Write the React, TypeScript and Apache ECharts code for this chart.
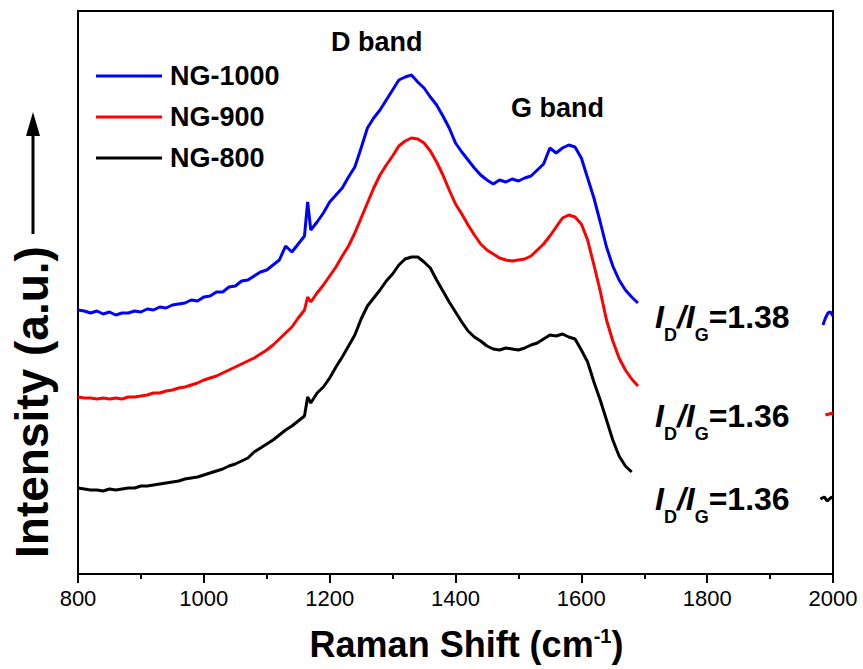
import * as echarts from 'echarts';
import { useEffect, useRef } from 'react';

// Raman shift sample positions (cm^-1)
const WAVENUMBER = [
  800, 810, 820, 830, 840, 850, 860, 870, 880, 890,
  900, 910, 920, 930, 940, 950, 960, 970, 980, 990,
  1000, 1010, 1020, 1030, 1040, 1050, 1060, 1070, 1080, 1090,
  1100, 1110, 1120, 1130, 1140, 1150, 1160, 1165, 1170, 1180, 1190,
  1200, 1210, 1220, 1230, 1240, 1250, 1260, 1270, 1280, 1290,
  1300, 1310, 1320, 1330, 1340, 1350, 1360, 1370, 1380, 1390,
  1400, 1410, 1420, 1430, 1440, 1450, 1460, 1470, 1480, 1490,
  1500, 1510, 1520, 1530, 1540, 1550, 1560, 1570, 1580, 1590,
  1600, 1610, 1620, 1630, 1640, 1650, 1660, 1670, 1680, 1690,
];

// Intensities (a.u., stacked offsets as plotted)
const NG1000 = [
  264, 263, 261, 263, 260, 262, 259, 261, 261, 263,
  262, 265, 264, 267, 266, 269, 270, 271, 274, 273,
  277, 278, 282, 282, 287, 288, 293, 294, 298, 302,
  304, 309, 314, 328, 322, 330, 338, 372, 344, 352, 361,
  372, 379, 386, 397, 407, 426, 446, 456, 464, 474,
  484, 494, 497, 499, 492, 486, 477, 469, 458, 446,
  431, 422, 414, 406, 399, 394, 390, 394, 392, 395,
  393, 396, 398, 404, 410, 426, 421, 426, 429, 427,
  416, 396, 376, 352, 327, 308, 294, 284, 277, 271,
];
const NG900 = [
  177, 176, 176, 175, 176, 175, 176, 175, 177, 177,
  178, 179, 181, 181, 183, 184, 186, 187, 189, 191,
  194, 196, 198, 201, 204, 207, 210, 213, 216, 220,
  224, 229, 235, 241, 247, 256, 264, 277, 272, 281, 289,
  298, 307, 318, 328, 341, 356, 371, 386, 399, 409,
  418, 428, 433, 436, 435, 431, 423, 412, 399, 384,
  370, 360, 349, 339, 330, 324, 320, 316, 314, 313,
  314, 315, 318, 324, 330, 338, 347, 356, 359, 357,
  350, 334, 309, 283, 254, 233, 216, 204, 195, 188,
];
const NG800 = [
  86, 85, 84, 84, 83, 85, 84, 85, 86, 86,
  88, 88, 89, 90, 91, 92, 93, 95, 96, 97,
  99, 101, 103, 105, 108, 110, 113, 116, 122, 126,
  130, 134, 139, 144, 148, 153, 158, 177, 171, 181, 187,
  196, 207, 217, 228, 239, 255, 268, 276, 284, 293,
  300, 309, 315, 317, 317, 312, 306, 294, 283, 272,
  262, 252, 243, 237, 233, 228, 225, 224, 226, 225,
  224, 226, 229, 231, 235, 239, 238, 240, 237, 235,
  224, 212, 192, 174, 154, 134, 118, 108, 102, null,
];

// Short segments at the right edge of the frame
const NG1000_TAIL_X = [1984, 1988, 1992, 1996, 2000];
const NG1000_TAIL = [249, 256, 261, 262, 258];
const NG900_TAIL_X = [1988, 1994, 2000];
const NG900_TAIL = [159, 160, 161];
const NG800_TAIL_X = [1980, 1986, 1991, 1996, 2000];
const NG800_TAIL = [75, 77, 73, 76, 77];

const SERIES_NAMES = ['NG-1000', 'NG-900', 'NG-800'];
const SERIES_COLORS = ['#0000ff', '#ff0000', '#000000'];
const RATIOS = ['1.38', '1.36', '1.36'];

const FONT = '"Liberation Sans", Arial, Helvetica, sans-serif';

function build(ys: (number | null)[], tx: number[], ty: number[]) {
  const main = WAVENUMBER.map((x, i) => [x, ys[i] == null ? '-' : ys[i]]);
  return [...main, [1840, '-'], ...tx.map((x, i) => [x, ty[i]])];
}

export default function App() {
  const ref = useRef<HTMLDivElement>(null);

  useEffect(() => {
    const chart = echarts.init(ref.current!, null, { renderer: 'svg' });

    const ratioRich = {
      i: { fontSize: 32, fontWeight: 'bold', fontStyle: 'italic', fontFamily: FONT, fill: '#000', lineHeight: 32, verticalAlign: 'top' },
      s: { fontSize: 18, fontWeight: 'bold', fontFamily: FONT, fill: '#000', lineHeight: 18, padding: [25, 0, 0, 0], verticalAlign: 'top' },
      n: { fontSize: 32, fontWeight: 'bold', fontFamily: FONT, fill: '#000', lineHeight: 32, verticalAlign: 'top' },
    };
    const ratioY = [317, 415.5, 499];

    const datasets = [
      build(NG1000, NG1000_TAIL_X, NG1000_TAIL),
      build(NG900, NG900_TAIL_X, NG900_TAIL),
      build(NG800, NG800_TAIL_X, NG800_TAIL),
    ];

    chart.setOption({
      animation: false,
      backgroundColor: '#ffffff',
      grid: {
        left: 78, right: 30, top: 11, bottom: 95,
        show: true, borderColor: '#000', borderWidth: 2, backgroundColor: 'transparent',
      },
      legend: {
        orient: 'vertical',
        left: 96,
        top: 61,
        padding: 0,
        icon: 'rect',
        itemWidth: 66,
        itemHeight: 3,
        itemGap: 11,
        data: SERIES_NAMES,
        textStyle: { fontSize: 27, fontWeight: 'bold', color: '#000', fontFamily: FONT, lineHeight: 30, padding: [0, 0, 0, 3] },
      },
      xAxis: {
        type: 'value',
        min: 800,
        max: 2000,
        interval: 200,
        name: '{a|Raman Shift (cm}{b|-1}{a|)}',
        nameLocation: 'middle',
        nameGap: 52,
        nameTextStyle: {
          padding: [0, 0, 0, 22],
          rich: {
            a: { fontSize: 36, fontWeight: 'bold', fontFamily: FONT, color: '#000', lineHeight: 36, verticalAlign: 'top' },
            b: { fontSize: 20, fontWeight: 'bold', fontFamily: FONT, color: '#000', lineHeight: 14, verticalAlign: 'top' },
          },
        },
        axisLine: { show: true, lineStyle: { color: '#000', width: 2 } },
        axisTick: { show: true, inside: false, length: 9, lineStyle: { color: '#000', width: 2 } },
        minorTick: { show: true, splitNumber: 2, length: 5, lineStyle: { color: '#000', width: 2 } },
        axisLabel: { fontSize: 22, color: '#000', fontFamily: FONT, margin: 13, formatter: (v: number) => String(v) },
        splitLine: { show: false },
        minorSplitLine: { show: false },
      },
      yAxis: {
        type: 'value',
        min: 0,
        max: 563,
        axisLine: { show: true, lineStyle: { color: '#000', width: 2 } },
        axisTick: { show: false },
        axisLabel: { show: false },
        splitLine: { show: false },
      },
      series: SERIES_NAMES.map((name, k) => ({
        name,
        type: 'line',
        data: datasets[k],
        symbol: 'none',
        showSymbol: false,
        connectNulls: false,
        smooth: false,
        lineStyle: { width: 3, color: SERIES_COLORS[k] },
        itemStyle: { color: SERIES_COLORS[k] },
      })),
      graphic: [
        {
          type: 'text',
          x: 32,
          y: 402,
          rotation: Math.PI / 2,
          style: { text: 'Intensity (a.u.)', fontSize: 46, fontWeight: 'bold', fontFamily: FONT, fill: '#000', align: 'center', verticalAlign: 'middle' },
        },
        { type: 'line', shape: { x1: 33, y1: 234, x2: 33, y2: 130 }, style: { stroke: '#000', lineWidth: 3 } },
        { type: 'polygon', shape: { points: [[26, 136], [40, 136], [33, 112]] }, style: { fill: '#000' } },
        {
          type: 'text', x: 331, y: 42,
          style: { text: 'D band', fontSize: 27, fontWeight: 'bold', fontFamily: FONT, fill: '#000', align: 'left', verticalAlign: 'middle' },
        },
        {
          type: 'text', x: 511, y: 108,
          style: { text: 'G band', fontSize: 27, fontWeight: 'bold', fontFamily: FONT, fill: '#000', align: 'left', verticalAlign: 'middle' },
        },
        ...RATIOS.map((r, k) => ({
          type: 'text',
          x: 655,
          y: ratioY[k],
          style: {
            text: `{i|I}{s|D}{i|/I}{s|G}{n|=${r}}`,
            rich: ratioRich,
            align: 'left',
            verticalAlign: 'middle',
          },
        })),
      ],
    });

    return () => chart.dispose();
  }, []);

  return <div ref={ref} style={{ position: 'fixed', left: 0, top: 0, width: 863, height: 669 }} />;
}
